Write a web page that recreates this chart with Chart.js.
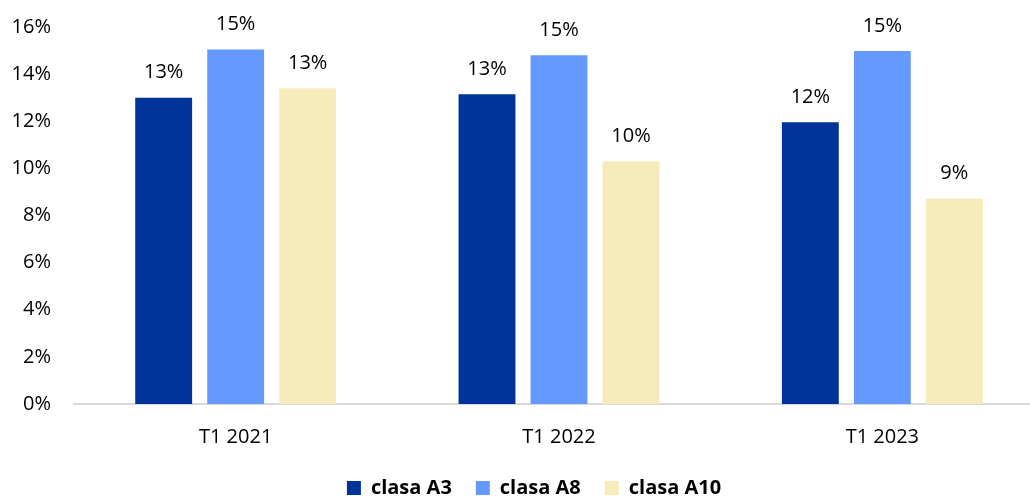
<!DOCTYPE html>
<html>
<head>
<meta charset="utf-8">
<script src="https://cdn.jsdelivr.net/npm/chart.js@4"></script>
<style>
  html, body { margin: 0; padding: 0; background: #fff; overflow: hidden; }
  #wrap { width: 1060px; height: 496px; position: relative; }
</style>
</head>
<body>
<div id="wrap"><canvas id="chart"></canvas></div>
<script>
// Quarterly shares per class, in percent
const categories = ['T1 2021', 'T1 2022', 'T1 2023'];
const seriesNames = ['clasa A3', 'clasa A8', 'clasa A10'];
const clasaA3 = [13.0, 13.15, 11.96];
const clasaA8 = [15.05, 14.8, 14.98];
const clasaA10 = [13.4, 10.3, 8.72];
const yTicks = [0, 2, 4, 6, 8, 10, 12, 14, 16];

const colors = ['#003399', '#6699FF', '#F7EBBB'];
const FONT = "'Open Sans', 'Liberation Sans', sans-serif";

Chart.defaults.font.family = FONT;
Chart.defaults.color = '#000';

// Value labels above each bar
const valueLabels = {
  id: 'valueLabels',
  afterDatasetsDraw(chart) {
    const ctx = chart.ctx;
    ctx.save();
    ctx.font = '20px ' + FONT;
    ctx.fillStyle = '#000';
    ctx.textAlign = 'center';
    ctx.textBaseline = 'bottom';
    chart.data.datasets.forEach((ds, i) => {
      chart.getDatasetMeta(i).data.forEach((bar, j) => {
        ctx.fillText(Math.round(ds.data[j]) + '%', bar.x, bar.y - 15);
      });
    });
    ctx.restore();
  }
};

// Centre the legend under the visible part of the page and pull it up a bit
const legendShift = {
  id: 'legendShift',
  afterLayout(chart) {
    const lg = chart.legend;
    lg.left += 12;
    lg.right += 12;
    lg.top -= 8;
    lg.bottom -= 8;
  }
};

new Chart(document.getElementById('chart'), {
  type: 'bar',
  data: {
    labels: categories,
    datasets: [clasaA3, clasaA8, clasaA10].map((data, i) => ({
      label: seriesNames[i],
      data,
      backgroundColor: colors[i],
      borderWidth: 0,
      categoryPercentage: 0.668,
      barPercentage: 0.79
    }))
  },
  options: {
    responsive: true,
    maintainAspectRatio: false,
    animation: false,
    layout: { padding: { top: 21, right: 16, left: 0, bottom: -20 } },
    plugins: {
      tooltip: { enabled: false },
      legend: {
        position: 'bottom',
        labels: {
          boxWidth: 14,
          boxHeight: 14,
          padding: 24,
          font: { size: 20, weight: 'bold' }
        }
      }
    },
    scales: {
      x: {
        grid: { display: false },
        border: { display: true, color: '#D9D9D9', width: 2 },
        ticks: { font: { size: 20 }, padding: 13 }
      },
      y: {
        min: 0,
        max: 16,
        afterBuildTicks(axis) { axis.ticks = yTicks.map(v => ({ value: v })); },
        afterFit(axis) { axis.width = 74; },
        grid: { display: false },
        border: { display: false },
        ticks: { font: { size: 20 }, padding: 15, callback: v => v + '%' }
      }
    }
  },
  plugins: [valueLabels, legendShift]
});
</script>
</body>
</html>
